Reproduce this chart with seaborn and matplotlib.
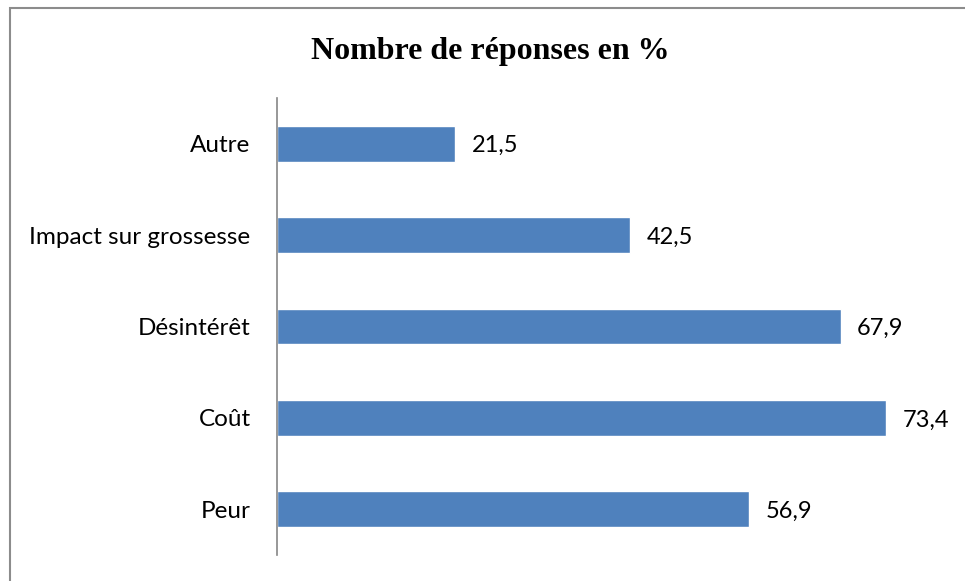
import matplotlib
matplotlib.use("Agg")
import matplotlib.pyplot as plt
from matplotlib.patches import Rectangle
import seaborn as sns
import pandas as pd

# ==========================================
# DATA
# ==========================================
categories = ["Autre", "Impact sur grossesse", "Désintérêt", "Coût", "Peur"]
values = [21.5, 42.5, 67.9, 73.4, 56.9]
title = "Nombre de réponses en %"

df = pd.DataFrame({"cat": categories, "val": values})

sns.set_style("white")
plt.rcParams["font.family"] = ["Lato", "DejaVu Sans"]
plt.rcParams["text.color"] = "black"
plt.rcParams["ytick.color"] = "black"

fig = plt.figure(figsize=(9.65, 5.81), dpi=100)
ax = fig.add_axes([277 / 965, 1 - 555 / 581, (941 - 277) / 965, (555 - 98) / 581])

sns.barplot(data=df, x="val", y="cat", orient="h", color="#4f81bd",
            width=0.39, saturation=1, ax=ax)

# value labels with comma decimals, as in the original
for i, v in enumerate(values):
    ax.text(v + 2.0, i, f"{v:.1f}".replace(".", ","), va="center_baseline", ha="left",
            fontsize=17, color="black")

ax.set_xlim(0, 80)
ax.set_ylim(4.5, -0.5)
ax.set_xlabel("")
ax.set_ylabel("")
ax.set_xticks([])
ax.tick_params(axis="y", length=0, pad=19, labelsize=17.5, labelcolor="black")
for s in ["top", "right", "bottom"]:
    ax.spines[s].set_visible(False)
ax.spines["left"].set_color("#868686")
ax.spines["left"].set_linewidth(1.2)

fig.text(490 / 965, 1 - 52 / 581, title, ha="center", va="center",
         fontsize=23, fontweight="bold", family="Liberation Serif", color="black")

# outer chart frame
fig.patches.append(Rectangle((10 / 965, -0.1), 1.0, 1 - 8 / 581 + 0.1,
                             transform=fig.transFigure, fill=False,
                             edgecolor="#8c8c8c", linewidth=1.5))

plt.savefig("out.png", dpi=100)
